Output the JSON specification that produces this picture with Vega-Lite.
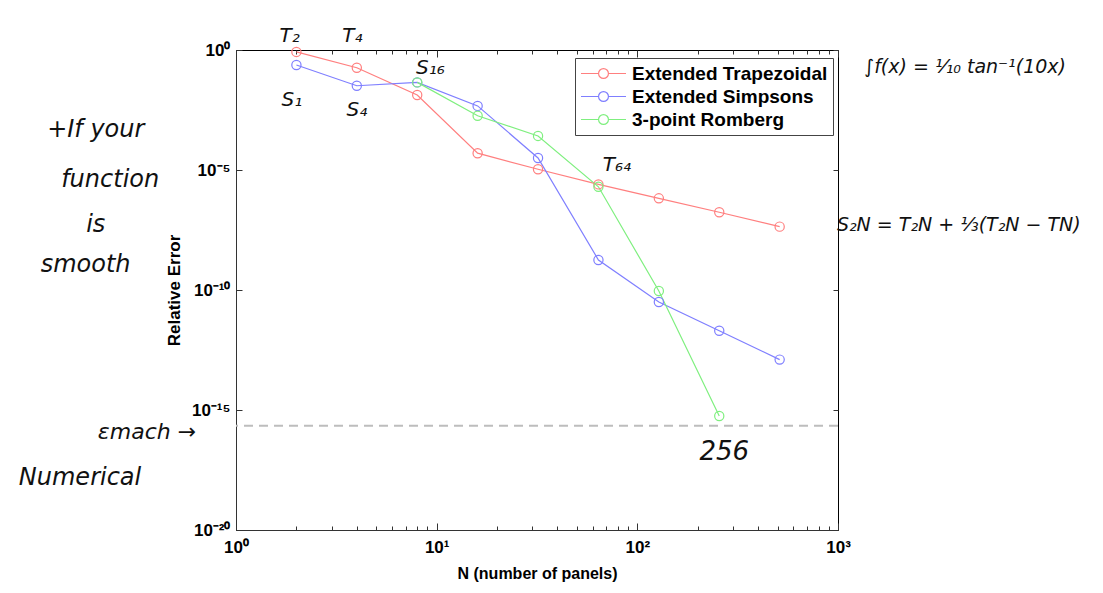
{
  "$schema": "https://vega.github.io/schema/vega-lite/v6.json",
  "autosize": "none",
  "width": 602,
  "height": 480,
  "padding": {"left": 236, "top": 50, "right": 265, "bottom": 63},
  "background": "white",
  "config": {
    "view": {"stroke": "black", "strokeWidth": 1}
  },
  "datasets": {
    "errors": [
      {"N": 2, "err": 0.832, "method": "Extended Trapezoidal"},
      {"N": 4, "err": 0.182, "method": "Extended Trapezoidal"},
      {"N": 8, "err": 0.01334, "method": "Extended Trapezoidal"},
      {"N": 16, "err": 5.01e-5, "method": "Extended Trapezoidal"},
      {"N": 32, "err": 1.07e-5, "method": "Extended Trapezoidal"},
      {"N": 64, "err": 2.51e-6, "method": "Extended Trapezoidal"},
      {"N": 128, "err": 6.61e-7, "method": "Extended Trapezoidal"},
      {"N": 256, "err": 1.74e-7, "method": "Extended Trapezoidal"},
      {"N": 512, "err": 4.37e-8, "method": "Extended Trapezoidal"},
      {"N": 2, "err": 0.237, "method": "Extended Simpsons"},
      {"N": 4, "err": 0.0324, "method": "Extended Simpsons"},
      {"N": 8, "err": 0.0447, "method": "Extended Simpsons"},
      {"N": 16, "err": 4.68e-3, "method": "Extended Simpsons"},
      {"N": 32, "err": 3.16e-5, "method": "Extended Simpsons"},
      {"N": 64, "err": 1.78e-9, "method": "Extended Simpsons"},
      {"N": 128, "err": 3.16e-11, "method": "Extended Simpsons"},
      {"N": 256, "err": 2.0e-12, "method": "Extended Simpsons"},
      {"N": 512, "err": 1.26e-13, "method": "Extended Simpsons"},
      {"N": 8, "err": 0.0447, "method": "3-point Romberg"},
      {"N": 16, "err": 1.82e-3, "method": "3-point Romberg"},
      {"N": 32, "err": 2.63e-4, "method": "3-point Romberg"},
      {"N": 64, "err": 2.0e-6, "method": "3-point Romberg"},
      {"N": 128, "err": 9.1e-11, "method": "3-point Romberg"},
      {"N": 256, "err": 5.6e-16, "method": "3-point Romberg"}
    ],
    "eps": [{"eps": 2.22e-16}],
    "notes": [
      {"N": 1.85, "err": 4.0, "label": "T₂", "size": 20},
      {"N": 3.8, "err": 4.0, "label": "T₄", "size": 20},
      {"N": 1.9, "err": 0.0083, "label": "S₁", "size": 20},
      {"N": 4.0, "err": 0.00316, "label": "S₄", "size": 20},
      {"N": 9.3, "err": 0.178, "label": "S₁₆", "size": 20},
      {"N": 79, "err": 1.6e-5, "label": "T₆₄", "size": 20},
      {"N": 271, "err": 1.8e-17, "label": "256", "size": 26},
      {"N": 0.2, "err": 4.7e-4, "label": "+If your", "size": 24},
      {"N": 0.236, "err": 3.8e-6, "label": "function", "size": 24},
      {"N": 0.2, "err": 5.1e-8, "label": "is", "size": 24},
      {"N": 0.178, "err": 1.1e-9, "label": "smooth", "size": 24},
      {"N": 0.36, "err": 1.2e-16, "label": "εmach →", "size": 22},
      {"N": 0.167, "err": 1.5e-18, "label": "Numerical", "size": 24},
      {"N": 4300, "err": 0.2, "label": "∫f(x) = ¹⁄₁₀ tan⁻¹(10x)", "size": 19},
      {"N": 4000, "err": 5.1e-8, "label": "S₂N = T₂N + ⅓(T₂N − TN)", "size": 19}
    ]
  },
  "layer": [
    {
      "data": {"name": "eps"},
      "mark": {"type": "rule", "color": "#bdbdbd", "strokeWidth": 2, "strokeDash": [9, 6]},
      "encoding": {
        "y": {
          "field": "eps", "type": "quantitative",
          "scale": {"type": "log", "domain": [1e-20, 1], "nice": false},
          "axis": {
            "orient": "right", "values": [1, 1e-5, 1e-10, 1e-15, 1e-20],
            "labels": false, "title": null, "tickSize": -5, "domain": false, "grid": false,
            "tickColor": "#333"
          }
        }
      }
    },
    {
      "data": {"name": "errors"},
      "mark": {
        "type": "line", "strokeWidth": 1.2,
        "point": {"filled": false, "size": 85, "strokeWidth": 1.2}
      },
      "encoding": {
        "x": {
          "field": "N", "type": "quantitative",
          "scale": {"type": "log", "domain": [1, 1000], "nice": false},
          "axis": {
            "orient": "bottom",
            "grid": false,
            "domainColor": "#333",
            "tickColor": "#333",
            "title": "N (number of panels)",
            "titleFont": "Liberation Sans",
            "titleFontWeight": "bold",
            "titleFontSize": 16,
            "titleColor": "black",
            "titlePadding": 7,
            "labelFont": "Liberation Sans",
            "labelFontWeight": "bold",
            "labelFontSize": 17,
            "labelColor": "black",
            "values": [1, 2, 3, 4, 5, 6, 7, 8, 9, 10, 20, 30, 40, 50, 60, 70, 80, 90, 100, 200, 300, 400, 500, 600, 700, 800, 900, 1000],
            "labelExpr": "datum.value == 1 ? '10⁰' : datum.value == 10 ? '10¹' : datum.value == 100 ? '10²' : datum.value == 1000 ? '10³' : ''",
            "tickSize": {"condition": {"test": "datum.value == 1 || datum.value == 10 || datum.value == 100 || datum.value == 1000", "value": -7}, "value": -4},
            "labelPadding": 16,
            "labelFlush": false,
            "labelOverlap": false
          }
        },
        "y": {
          "field": "err", "type": "quantitative",
          "scale": {"type": "log", "domain": [1e-20, 1], "nice": false},
          "axis": {
            "orient": "left",
            "grid": false,
            "domainColor": "#333",
            "tickColor": "#333",
            "title": "Relative Error",
            "titleFont": "Liberation Sans",
            "titleFontWeight": "bold",
            "titleFontSize": 17,
            "titleColor": "black",
            "titlePadding": 8,
            "labelFont": "Liberation Sans",
            "labelFontWeight": "bold",
            "labelFontSize": 17,
            "labelColor": "black",
            "values": [1, 1e-5, 1e-10, 1e-15, 1e-20],
            "labelExpr": "datum.value == 1 ? '10⁰' : datum.value == 1e-5 ? '10⁻⁵' : datum.value == 1e-10 ? '10⁻¹⁰' : datum.value == 1e-15 ? '10⁻¹⁵' : '10⁻²⁰'",
            "tickSize": -6,
            "labelPadding": 12
          }
        },
        "color": {
          "field": "method", "type": "nominal",
          "scale": {
            "domain": ["Extended Trapezoidal", "Extended Simpsons", "3-point Romberg"],
            "range": ["#ff7f7f", "#7f7fff", "#7fef7f"]
          },
          "legend": {
            "orient": "none",
            "legendX": 339,
            "legendY": 8,
            "title": null,
            "strokeColor": "#444",
            "fillColor": "white",
            "padding": 5,
            "labelFont": "Liberation Sans",
            "labelFontWeight": "bold",
            "labelFontSize": 19,
            "labelColor": "black",
            "labelOffset": 5,
            "labelLimit": 300,
            "symbolType": "M-1,0H-0.22M0.22,0H1M-0.22,0A0.22,0.22 0 1,1 0.22,0A0.22,0.22 0 1,1 -0.22,0Z",
            "symbolSize": 2025,
            "symbolStrokeWidth": 1.2,
            "symbolFillColor": "transparent",
            "clipHeight": 21,
            "rowPadding": 2
          }
        }
      }
    },
    {
      "data": {"name": "notes"},
      "mark": {"type": "rule", "opacity": 0},
      "encoding": {
        "x": {
          "field": "N", "type": "quantitative",
          "scale": {"type": "log", "domain": [1, 1000], "nice": false},
          "axis": {
            "orient": "top",
            "grid": false,
            "tickColor": "#333",
            "values": [1, 2, 3, 4, 5, 6, 7, 8, 9, 10, 20, 30, 40, 50, 60, 70, 80, 90, 100, 200, 300, 400, 500, 600, 700, 800, 900, 1000],
            "labels": false, "title": null, "domain": false,
            "tickSize": {"condition": {"test": "datum.value == 1 || datum.value == 10 || datum.value == 100 || datum.value == 1000", "value": -7}, "value": -4}
          }
        }
      }
    },
    {
      "data": {"name": "notes"},
      "mark": {"type": "text", "font": "DejaVu Sans", "color": "#111", "fontStyle": "italic", "clip": false},
      "encoding": {
        "x": {"field": "N", "type": "quantitative", "axis": null},
        "y": {"field": "err", "type": "quantitative", "axis": null},
        "text": {"field": "label", "type": "nominal"},
        "size": {"field": "size", "type": "quantitative", "scale": null, "legend": null}
      }
    }
  ]
}
